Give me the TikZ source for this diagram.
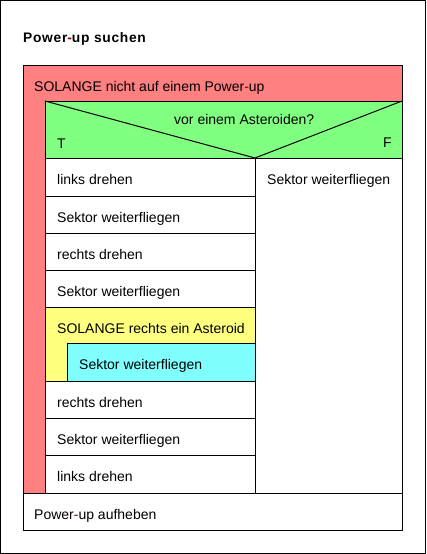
\documentclass[tikz,border=0pt]{standalone}
\usepackage{fontspec}
\setmainfont{Liberation Sans}
\newfontfamily\titlefont[LetterSpace=5]{Liberation Sans}
\definecolor{loopred}{HTML}{FF8080}
\definecolor{ifgreen}{HTML}{80FF80}
\definecolor{whileyellow}{HTML}{FFFF80}
\definecolor{bodycyan}{HTML}{80FFFF}
\definecolor{hyph}{HTML}{800000}
\newcommand{\hy}{\textcolor{hyph}{-}}
\begin{document}
\begin{tikzpicture}[x=1pt,y=-1pt,
  box/.style={draw=black,line width=1pt},
  txt/.style={anchor=base west,inner sep=0pt,font=\fontsize{14}{16}\selectfont,text=black}]
\useasboundingbox (0,0) rectangle (426,554);
\fill[white] (0,0) rectangle (426,554);
\draw[line width=1pt] (0.5,0.5) rectangle (425.5,553.5);
% title
\node[txt,font=\titlefont\bfseries\fontsize{13.8}{16}\selectfont] (title) at (23,42) {Power\hy up suchen};
% loop
\draw[box,fill=loopred] (23,65) rectangle (402,493);
\node[txt] (loophead) at (34,91) {SOLANGE nicht auf einem Power\hy up};
% decision
\draw[box,fill=ifgreen] (45,101) rectangle (402,158);
\draw[line width=1pt] (45,101) -- (255,158) -- (402,101);
\node[txt] (cond) at (174,124) {vor einem Asteroiden?};
\node[txt] (T) at (57,148) {T};
\node[txt] (F) at (383,147) {F};
% right column
\draw[box,fill=white] (255,158) rectangle (402,493);
\node[txt] (r1) at (267,184) {Sektor weiterfliegen};
% left column
\draw[box,fill=white] (45,158) rectangle (255,196);
\node[txt] (l1) at (57,184) {links drehen};
\draw[box,fill=white] (45,196) rectangle (255,233);
\node[txt] (l2) at (57,222) {Sektor weiterfliegen};
\draw[box,fill=white] (45,233) rectangle (255,270);
\node[txt] (l3) at (57,259) {rechts drehen};
\draw[box,fill=white] (45,270) rectangle (255,307);
\node[txt] (l4) at (57,296) {Sektor weiterfliegen};
\draw[box,fill=whileyellow] (45,307) rectangle (255,381);
\node[txt] (l5) at (57,333) {SOLANGE rechts ein Asteroid};
\draw[box,fill=bodycyan] (67,343) rectangle (255,381);
\node[txt] (l5b) at (79,369) {Sektor weiterfliegen};
\draw[box,fill=white] (45,381) rectangle (255,418);
\node[txt] (l6) at (57,407) {rechts drehen};
\draw[box,fill=white] (45,418) rectangle (255,455);
\node[txt] (l7) at (57,444) {Sektor weiterfliegen};
\draw[box,fill=white] (45,455) rectangle (255,493);
\node[txt] (l8) at (57,481) {links drehen};
% after loop
\draw[box,fill=white] (23,493) rectangle (402,530);
\node[txt] (last) at (34,519) {Power\hy up aufheben};
\end{tikzpicture}
\end{document}
